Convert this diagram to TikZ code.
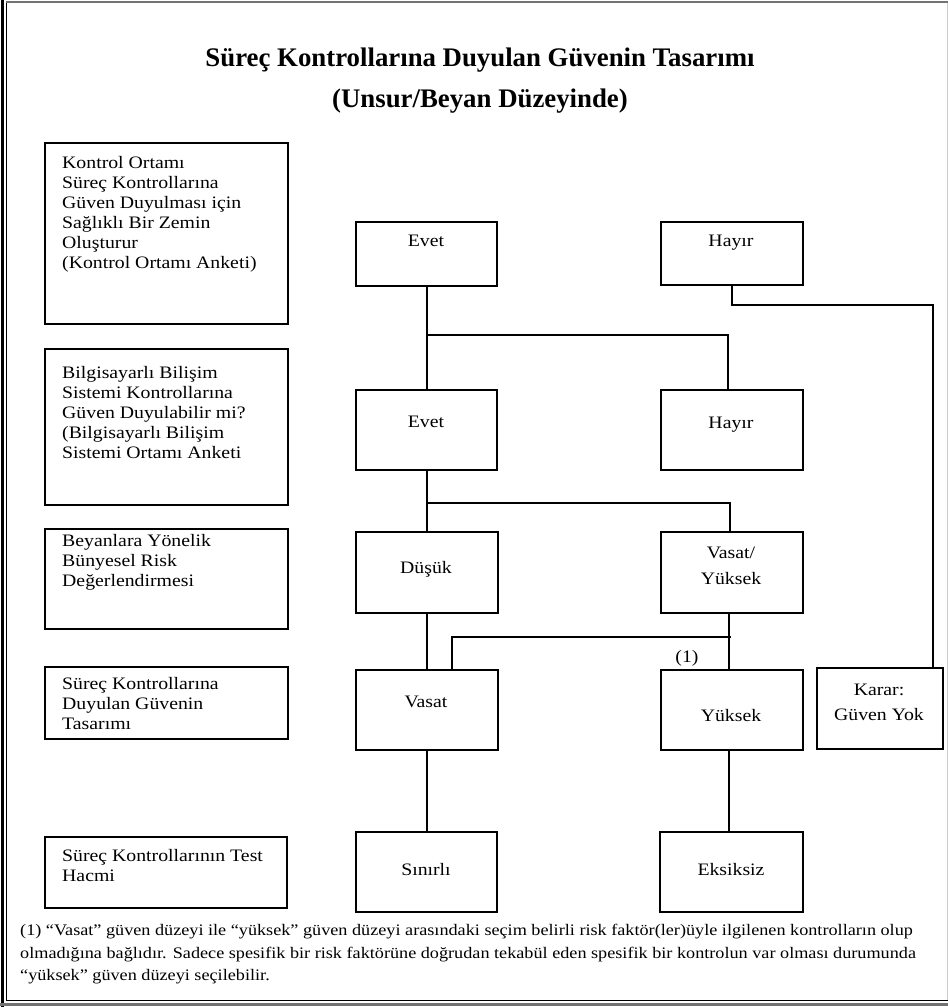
\documentclass[tikz,border=0pt]{standalone}
\usepackage{fontspec}
\setmainfont{Liberation Serif}
\newfontfamily\bodyf{Liberation Serif}[FakeStretch=1.13]
\usetikzlibrary{calc}
\tikzset{
  box/.style={draw, line width=1.6pt, inner sep=0pt, anchor=north west},
  ltxt/.style={inner sep=0pt, anchor=north west, align=left,
    font=\bodyf\fontsize{17.5}{20}\selectfont},
  ctxt/.style={inner sep=0pt, anchor=base,
    font=\bodyf\fontsize{17.5}{26}\selectfont},
  mtxt/.style={inner sep=0pt, anchor=center, align=center,
    font=\bodyf\fontsize{17.5}{25.5}\selectfont},
  conn/.style={line width=1.6pt},
  ttl/.style={inner sep=0pt, anchor=base, font=\bfseries\fontsize{26.8}{30}\selectfont},
  ftxt/.style={inner sep=0pt, anchor=north west, align=left,
    font=\bodyf\fontsize{16.1}{22.5}\selectfont},
}
\begin{document}
\begin{tikzpicture}[x=1pt,y=-1pt]
\useasboundingbox (0,0) rectangle (948,1007);
\fill[white] (0,0) rectangle (948,1007);
% frame
\draw[line width=3.5pt, black] (2.5,0) -- (2.5,1007);
\draw[line width=1pt, black] (6.5,3) -- (6.5,1001);
\draw[line width=2pt, black!55] (6,2) -- (948,2);
\draw[line width=1pt, black!20] (947,3) -- (947,1001);
\draw[line width=1pt, black] (6.5,1000.5) -- (948,1000.5);
\draw[line width=3pt, black!55] (0,1004.5) -- (948,1004.5);
% title
\node[ttl] (t1) at (480,66) {Süreç Kontrollarına Duyulan Güvenin Tasarımı};
\node[ttl] (t2) at (480,107) {(Unsur/Beyan Düzeyinde)};
% left column
\node[box, minimum width=243pt, minimum height=181pt] (k1) at (44,142) {};
\node[ltxt] (k1t) at (62,156) {Kontrol Ortamı\\Süreç Kontrollarına\\Güven Duyulması için\\Sağlıklı Bir Zemin\\Oluşturur\\(Kontrol Ortamı Anketi)};
\node[box, minimum width=243pt, minimum height=156pt] (k2) at (44,348) {};
\node[ltxt] (k2t) at (62,366) {Bilgisayarlı Bilişim\\Sistemi Kontrollarına\\Güven Duyulabilir mi?\\(Bilgisayarlı Bilişim\\Sistemi Ortamı Anketi};
\node[box, minimum width=243pt, minimum height=100pt] (k3) at (44,528) {};
\node[ltxt] (k3t) at (62,534) {Beyanlara Yönelik\\Bünyesel Risk\\Değerlendirmesi};
\node[box, minimum width=243pt, minimum height=72pt] (k4) at (44,666) {};
\node[ltxt] (k4t) at (62,677) {Süreç Kontrollarına\\Duyulan Güvenin\\Tasarımı};
\node[box, minimum width=242pt, minimum height=71pt] (k5) at (44,836) {};
\node[ltxt] (k5t) at (62,849) {Süreç Kontrollarının Test\\Hacmi};
% middle column boxes
\node[box, minimum width=141pt, minimum height=64pt] (e1) at (355,221) {};
\node[ctxt] (e1t) at (426,246) {Evet};
\node[box, minimum width=142pt, minimum height=63pt] (h1) at (660,221) {};
\node[ctxt] (h1t) at (731,246) {Hayır};
\node[box, minimum width=141pt, minimum height=80pt] (e2) at (355,389) {};
\node[ctxt] (e2t) at (426,427) {Evet};
\node[box, minimum width=142pt, minimum height=80pt] (h2) at (660,389) {};
\node[ctxt] (h2t) at (731,428) {Hayır};
\node[box, minimum width=142pt, minimum height=81pt] (d3) at (355,531) {};
\node[ctxt] (d3t) at (426,573) {Düşük};
\node[box, minimum width=142pt, minimum height=81pt] (vy) at (660,531) {};
\node[mtxt] (vyt) at (731,566) {Vasat/\\Yüksek};
\node[box, minimum width=142pt, minimum height=80pt] (v4) at (355,669) {};
\node[ctxt] (v4t) at (426,707) {Vasat};
\node[box, minimum width=142pt, minimum height=80pt] (y4) at (660,669) {};
\node[ctxt] (y4t) at (731,721) {Yüksek};
\node[box, minimum width=126pt, minimum height=81pt] (kr) at (816,667) {};
\node[mtxt] (krt) at (879,702.5) {Karar:\\Güven Yok};
\node[box, minimum width=141pt, minimum height=80pt] (s5) at (355,831) {};
\node[ctxt] (s5t) at (426,875) {Sınırlı};
\node[box, minimum width=143pt, minimum height=80pt] (x5) at (659,831) {};
\node[ctxt] (x5t) at (731,875) {Eksiksiz};
\node[ctxt] (n1) at (687,662) {(1)};
% connectors
\coordinate (j1) at (427,335);
\coordinate (j2) at (427,503);
\coordinate (j3a) at (731,637);
\coordinate (j3b) at (452,637);
\coordinate (hk) at (933,305);
\draw[conn] (e1.south -| j1) -- (e2.north -| j1);
\draw[conn] (j1) -| (h2.north -| 728,0);
\draw[conn] (h1.south) |- (hk) -- (kr.north -| hk);
\draw[conn] (e2.south -| j2) -- (d3.north -| j2);
\draw[conn] (j2) -| (vy.north -| 730,0);
\draw[conn] (d3.south -| j2) -- (v4.north -| j2);
\draw[conn] (vy.south -| 729,0) -- (y4.north -| 729,0);
\draw[conn] (j3a) -- (j3b) -- (j3b |- v4.north);
\draw[conn] (v4.south -| j2) -- (s5.north -| j2);
\draw[conn] (y4.south -| 729,0) -- (x5.north -| 729,0);
% footnote
\node[ftxt] (fn) at (20,924) {(1) “Vasat” güven düzeyi ile “yüksek” güven düzeyi arasındaki seçim belirli risk faktör(ler)üyle ilgilenen kontrolların olup\\olmadığına bağlıdır. Sadece spesifik bir risk faktörüne doğrudan tekabül eden spesifik bir kontrolun var olması durumunda\\“yüksek” güven düzeyi seçilebilir.};
\end{tikzpicture}
\end{document}
